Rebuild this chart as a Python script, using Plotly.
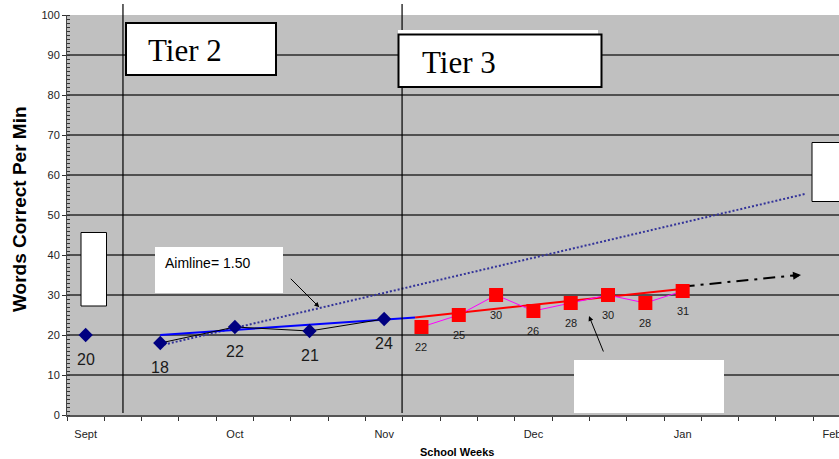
import plotly.graph_objects as go

# ---- data ----
month_labels = ["Sept", "Oct", "Nov", "Dec", "Jan", "Feb"]
month_pos = [0, 4, 8, 12, 16, 20]

baseline_x = [0]
baseline_y = [20]

tier2_x = [2, 4, 6, 8]
tier2_y = [18, 22, 21, 24]

tier3_x = [9, 10, 11, 12, 13, 14, 15, 16]
tier3_y = [22, 25, 30, 26, 28, 30, 28, 31]

trend2_x = [2, 8.83]
trend2_y = [20.0, 24.4]
trend3_x = [8.83, 16.1]
trend3_y = [24.4, 31.6]

aim_x = [2.1, 19.3]
aim_y = [17.6, 55.3]

proj_x = [16.0, 19.0]
proj_y = [32.1, 34.9]

phase_lines = [1.0, 8.48]

# ---- layout helpers (page pixel -> paper) ----
PAGE_W, PAGE_H = 839, 459
L, R, T, B = 67, 839, 15, 415
def X(px):
    return (px - L) / (R - L)
def Y(py):
    return (B - py) / (B - T)

fig = go.Figure()

fig.add_trace(go.Scatter(x=aim_x, y=aim_y, mode="lines",
                         line=dict(color="#333399", width=2, dash="2px,2px"),
                         hoverinfo="skip", showlegend=False))
fig.add_trace(go.Scatter(x=trend2_x, y=trend2_y, mode="lines",
                         line=dict(color="#0000FF", width=2), showlegend=False))
fig.add_trace(go.Scatter(x=trend3_x, y=trend3_y, mode="lines",
                         line=dict(color="#FF0000", width=2), showlegend=False))
fig.add_trace(go.Scatter(x=proj_x, y=proj_y, mode="lines",
                         line=dict(color="#000000", width=2, dash="12px,6px,3px,6px"),
                         showlegend=False))
fig.add_trace(go.Scatter(x=baseline_x, y=baseline_y, mode="markers",
                         marker=dict(symbol="diamond", size=11, color="#000080"),
                         showlegend=False))
fig.add_trace(go.Scatter(x=tier2_x, y=tier2_y, mode="lines+markers",
                         line=dict(color="#000000", width=1),
                         marker=dict(symbol="diamond", size=11, color="#000080"),
                         showlegend=False))
fig.add_trace(go.Scatter(x=tier3_x, y=tier3_y, mode="lines+markers",
                         line=dict(color="#FF00FF", width=1),
                         marker=dict(symbol="square", size=14, color="#FF0000"),
                         showlegend=False))

annotations = []
for xv, yv in zip(baseline_x + tier2_x, baseline_y + tier2_y):
    annotations.append(dict(x=xv, y=yv, xref="x", yref="y", text=str(yv),
                            showarrow=False, yshift=-24,
                            font=dict(family="Arial, Liberation Sans", size=16, color="#1a1a1a")))
for xv, yv in zip(tier3_x, tier3_y):
    annotations.append(dict(x=xv, y=yv, xref="x", yref="y", text=str(yv),
                            showarrow=False, yshift=-20,
                            font=dict(family="Arial, Liberation Sans", size=11, color="#1a1a1a")))

# text boxes
annotations.append(dict(x=X(146), y=Y(51), xref="paper", yref="paper", text="Tier 2",
                        showarrow=False, xanchor="left", yanchor="middle",
                        font=dict(family="Liberation Serif, Times New Roman", size=31, color="#000")))
annotations.append(dict(x=X(420), y=Y(62), xref="paper", yref="paper", text="Tier 3",
                        showarrow=False, xanchor="left", yanchor="middle",
                        font=dict(family="Liberation Serif, Times New Roman", size=31, color="#000")))
annotations.append(dict(x=X(163), y=Y(263), xref="paper", yref="paper", text="Aimline= 1.50",
                        showarrow=False, xanchor="left", yanchor="middle",
                        font=dict(family="Arial, Liberation Sans", size=14, color="#000")))

# axis titles
annotations.append(dict(x=X(457), y=Y(452), xref="paper", yref="paper",
                        text="<b>School Weeks</b>", showarrow=False,
                        xanchor="center", yanchor="middle",
                        font=dict(family="Arial, Liberation Sans", size=11, color="#000")))
annotations.append(dict(x=X(19), y=Y(209), xref="paper", yref="paper",
                        text="<b>Words Correct Per Min</b>", showarrow=False, textangle=-90,
                        xanchor="center", yanchor="middle",
                        font=dict(family="Arial, Liberation Sans", size=19, color="#000")))

# arrows
annotations.append(dict(x=X(319.3), y=Y(307.3), xref="paper", yref="paper", text="",
                        showarrow=True, ax=-30, ay=-30, axref="pixel", ayref="pixel",
                        arrowhead=2, arrowsize=1, arrowwidth=1, arrowcolor="#000"))
annotations.append(dict(x=X(589), y=Y(316), xref="paper", yref="paper", text="",
                        showarrow=True, ax=15, ay=37, axref="pixel", ayref="pixel",
                        arrowhead=2, arrowsize=1, arrowwidth=1, arrowcolor="#000"))
annotations.append(dict(x=X(801), y=Y(275), xref="paper", yref="paper", text="",
                        showarrow=True, ax=-10, ay=1, axref="pixel", ayref="pixel",
                        arrowhead=2, arrowsize=0.8, arrowwidth=2, arrowcolor="#000"))

shapes = []
for xv in phase_lines:
    shapes.append(dict(type="line", xref="x", yref="paper", x0=xv, x1=xv,
                       y0=Y(413), y1=Y(4), line=dict(color="#000", width=1.2), layer="above"))

def box(x0, y0, x1, y1, border=0, fill="white"):
    return dict(type="rect", xref="paper", yref="paper", x0=X(x0), x1=X(x1),
                y0=Y(y1), y1=Y(y0), fillcolor=fill,
                line=dict(color="#000", width=border) if border else dict(width=0),
                layer="above")

shapes.append(box(126, 23, 276, 75, border=2))
shapes.append(box(398, 30, 598, 36))
shapes.append(box(398.5, 34.5, 601.5, 87, border=2))
shapes.append(box(81, 232.5, 106.5, 306, border=1))
shapes.append(box(155, 247, 283, 293))
shapes.append(box(574, 360, 724, 413))
shapes.append(box(812, 142.5, 860, 201.5, border=1))

fig.update_layout(
    width=PAGE_W, height=PAGE_H,
    margin=dict(l=L, r=PAGE_W - R, t=T, b=PAGE_H - B, autoexpand=False),
    paper_bgcolor="white", plot_bgcolor="#C0C0C0",
    showlegend=False,
    annotations=annotations, shapes=shapes,
    font=dict(family="Arial, Liberation Sans", color="#000"),
    xaxis=dict(range=[-0.5, 20.19], tickvals=month_pos, ticktext=month_labels,
               ticks="", ticklabelstandoff=8, ticklabeloverflow="allow",
               showgrid=False, zeroline=False, automargin=False,
               showline=True, linecolor="#555", linewidth=2,
               tickfont=dict(size=11, color="#222"),
               minor=dict(tick0=-0.5, dtick=1, ticks="outside", ticklen=4,
                          tickcolor="#333", tickwidth=1, showgrid=False)),
    yaxis=dict(range=[0, 100], dtick=10, ticks="outside", ticklen=4, tickcolor="#333",
               showgrid=True, gridcolor="#505050", gridwidth=1.5, zeroline=False,
               automargin=False,
               showline=True, linecolor="#444", linewidth=1,
               tickfont=dict(size=11, color="#222"),
               minor=dict(dtick=1, ticks="inside", ticklen=3, tickcolor="#333",
                          showgrid=False)),
)

fig.write_html(
    "out.html",
    config={"displayModeBar": False},
    post_script="document.body.style.margin='0';document.body.style.overflow='hidden';",
)
